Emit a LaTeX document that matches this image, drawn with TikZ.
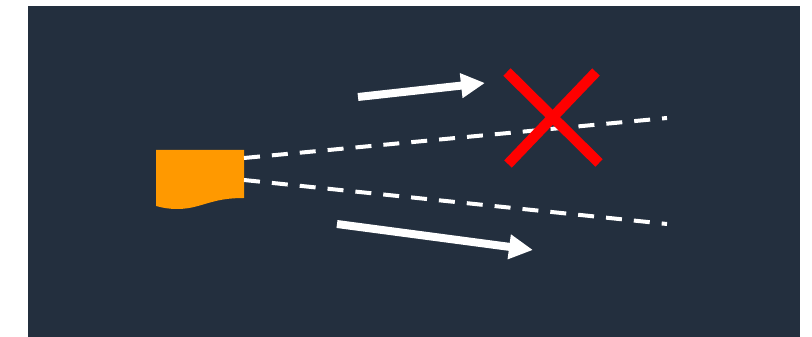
\documentclass[tikz,border=0pt]{standalone}
\usepackage{tikz}
\usetikzlibrary{arrows.meta}
\definecolor{SceneDark}{HTML}{232F3E}
\definecolor{SourceOrange}{HTML}{FF9900}

\begin{document}
\begin{tikzpicture}[x=0.02cm, y=-0.02cm,
    beam/.style={white, line width=0.08cm, dash pattern=on 0.32cm off 0.24cm},
    move/.style={white, line width=0.16cm, -{Triangle[length=0.48cm, width=0.47cm]}},
    cross/.style={red, line width=0.21cm}]
  \useasboundingbox (0,0) rectangle (812,337);
  \fill[white] (0,0) rectangle (812,337);
  \fill[SceneDark] (28,6) rectangle (800,337);

  % source with wavy bottom
  \coordinate (src nw) at (156,150);
  \coordinate (src ne) at (244,150);
  \coordinate (src se) at (244,198);
  \coordinate (src sw) at (156,206);
  \fill[SourceOrange] (src nw) -- (src ne) -- (src se)
    .. controls (222,198) and (212,202) .. (198,206)
    .. controls (184,210) and (170,210) .. (src sw) -- cycle;

  % beam edges
  \coordinate (beam top start) at (244,158);
  \coordinate (beam top end) at (667,118);
  \coordinate (beam bot start) at (244,180);
  \coordinate (beam bot end) at (667,224);
  \draw[beam] (beam top start) -- (beam top end);
  \draw[beam] (beam bot start) -- (beam bot end);

  % movement arrows
  \coordinate (up tail) at (358,97);
  \coordinate (up tip) at (485,83);
  \coordinate (down tail) at (337,224);
  \coordinate (down tip) at (533,250);
  \draw[move] (up tail) -- (up tip);
  \draw[move] (down tail) -- (down tip);

  % blocked
  \coordinate (x nw) at (507,72);
  \coordinate (x se) at (599,163);
  \coordinate (x ne) at (596,72);
  \coordinate (x sw) at (508,164);
  \draw[cross] (x nw) -- (x se);
  \draw[cross] (x ne) -- (x sw);
\end{tikzpicture}
\end{document}
